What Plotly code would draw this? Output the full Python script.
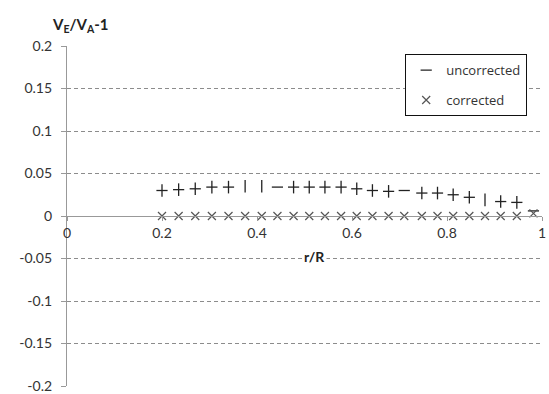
import plotly.graph_objects as go

r_over_R = [0.2, 0.235, 0.27, 0.305, 0.34, 0.375, 0.41, 0.443, 0.477, 0.51, 0.543, 0.577,
            0.61, 0.643, 0.677, 0.71, 0.747, 0.78, 0.813, 0.847, 0.88, 0.913, 0.947, 0.982]
uncorrected = [0.030, 0.031, 0.032, 0.034, 0.034, 0.035, 0.035, 0.034, 0.034, 0.034, 0.034, 0.034,
               0.032, 0.030, 0.029, 0.030, 0.027, 0.027, 0.025, 0.022, 0.019, 0.017, 0.016, 0.006]
corrected = [0.0] * 23 + [0.003]
# glyph shown for each uncorrected point: '+', '|' or '-'
uncorrected_glyph = ['+', '+', '+', '+', '+', '|', '|', '-', '+', '+', '+', '+',
                     '+', '+', '+', '-', '+', '+', '+', '+', '|', '+', '+', '-']
y_ticks = [0.2, 0.15, 0.1, 0.05, 0, -0.05, -0.1, -0.15, -0.2]
x_ticks = [0, 0.2, 0.4, 0.6, 0.8, 1]

FONT = "Lato, 'Open Sans', sans-serif"
INK = "#222222"

h_x = [x for x, g in zip(r_over_R, uncorrected_glyph) if g in '+-']
h_y = [y for y, g in zip(uncorrected, uncorrected_glyph) if g in '+-']
v_x = [x for x, g in zip(r_over_R, uncorrected_glyph) if g in '+|']
v_y = [y for y, g in zip(uncorrected, uncorrected_glyph) if g in '+|']

fig = go.Figure()
fig.add_trace(go.Scatter(
    x=h_x, y=h_y, mode="markers", name="uncorrected", legendgroup="a",
    marker=dict(symbol="line-ew", size=8, line=dict(width=1.3, color=INK), color=INK)))
fig.add_trace(go.Scatter(
    x=v_x, y=v_y, mode="markers", showlegend=False, legendgroup="a",
    marker=dict(symbol="line-ns", size=9, line=dict(width=1.3, color=INK), color=INK)))
fig.add_trace(go.Scatter(
    x=r_over_R, y=corrected, mode="markers", name="corrected", legendgroup="b",
    marker=dict(symbol="x-thin", size=8, line=dict(width=1.2, color="#555555"), color="#555555")))

fig.update_layout(
    width=549, height=394,
    margin=dict(l=67, r=7, t=46, b=8, autoexpand=False),
    paper_bgcolor="white", plot_bgcolor="white",
    font=dict(family=FONT, size=14, color="#333333"),
    showlegend=True,
    legend=dict(x=0.712, y=0.976, xanchor="left", yanchor="top",
                bordercolor="#111111", borderwidth=1, bgcolor="white",
                font=dict(family="'Open Sans', sans-serif", size=13, color="#333333"),
                tracegroupgap=10, itemwidth=30),
    xaxis=dict(range=[0, 1], tickvals=x_ticks, ticktext=[f"{v:g}" for v in x_ticks],
               showgrid=False, zeroline=False, showline=True, linecolor="#999999",
               linewidth=1.2, ticks="outside", ticklen=4, tickcolor="#999999",
               anchor="free", position=0.5, fixedrange=True, automargin=False),
    yaxis=dict(range=[-0.2, 0.2], tickvals=y_ticks, ticktext=[f"{v:g}" for v in y_ticks],
               showgrid=True, gridcolor="#8c8c8c", griddash="4px,3px", gridwidth=1,
               zeroline=True, zerolinecolor="#999999", zerolinewidth=1.2,
               showline=True, linecolor="#999999", linewidth=1.2, automargin=False,
               ticks="outside", ticklen=5, tickcolor="#999999", ticklabelstandoff=6),
    annotations=[
        dict(text="<b>V<sub>E</sub>/V<sub>A</sub>-1</b>", xref="paper", yref="paper",
             x=-0.036, y=1.062, xanchor="left", yanchor="middle", showarrow=False,
             font=dict(size=15, color="#222222")),
        dict(text="<b>r/R</b>", xref="x", yref="y", x=0.52, y=-0.048,
             xanchor="center", yanchor="middle", showarrow=False, bgcolor="white",
             font=dict(size=14, color="#222222")),
    ],
)

fig.write_html("out.html", config={"displayModeBar": False},
               post_script="document.body.style.margin='0';")
